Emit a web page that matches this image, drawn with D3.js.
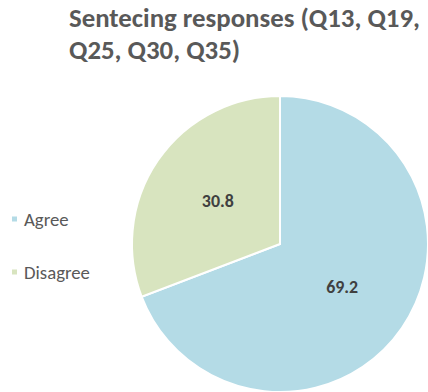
<!DOCTYPE html>
<html><head><meta charset="utf-8">
<script src="https://cdn.jsdelivr.net/npm/d3@7"></script>
<style>html,body{margin:0;padding:0;background:#fff;}</style>
</head><body>
<svg id="c" width="428" height="392"></svg>
<script>
const categories = ["Agree", "Disagree"];
const values = [69.2, 30.8];
const colors = ["#b4dbe6", "#d8e4bf"];
const titleLines = ["Sentecing responses (Q13, Q19,", "Q25, Q30, Q35)"];

const svg = d3.select("#c");
const font = "Carlito, Calibri, 'Open Sans', 'Noto Sans', sans-serif";

function fit(sel, base, target) {
  const w = sel.node().getComputedTextLength();
  return base * target / w;
}

// title
const t = svg.append("g");
titleLines.forEach((s, i) => {
  t.append("text").attr("x", 69).attr("y", 27 + i * 32)
    .attr("font-family", font).attr("font-weight", "bold").attr("font-size", 20)
    .attr("fill", "#595959").text(s);
});
t.selectAll("text").attr("font-size", fit(t.select("text"), 20, 351));

// pie
const cx = 280, cy = 244, r = 148;
const pie = d3.pie().sort(null).value(d => d)(values);
const arc = d3.arc().innerRadius(0).outerRadius(r);
const g = svg.append("g").attr("transform", `translate(${cx},${cy})`);
const color = d3.scaleOrdinal().domain(categories).range(colors);
g.selectAll("path").data(pie).join("path")
  .attr("d", arc).attr("fill", (d, i) => color(categories[i]))
  .attr("stroke", "#fff").attr("stroke-width", 2);
const lab = d3.arc().innerRadius(r * 0.51).outerRadius(r * 0.51);
const labels = g.selectAll("text.v").data(pie).join("text").attr("class", "v")
  .attr("transform", d => `translate(${lab.centroid(d)})`)
  .attr("text-anchor", "middle").attr("dy", "0.35em")
  .attr("font-family", font).attr("font-weight", "bold").attr("font-size", 13)
  .attr("fill", "#404040").text(d => d.value.toFixed(1));
labels.attr("font-size", fit(labels.filter((d, i) => i === 1), 13, 32));

// legend
const y = d3.scalePoint().domain(categories).range([219, 272]);
const lg = svg.append("g");
categories.forEach(c => {
  lg.append("rect").attr("x", 12).attr("y", y(c) - 2.5).attr("width", 5).attr("height", 5).attr("fill", color(c));
  lg.append("text").attr("class", "lt").attr("x", 24).attr("y", y(c)).attr("dy", "0.35em")
    .attr("font-family", font).attr("font-size", 14).attr("fill", "#595959").text(c);
});
const lt = lg.selectAll("text.lt");
lt.attr("font-size", fit(lt.filter((d, i, n) => n[i].textContent === "Disagree"), 14, 66));
</script>
</body></html>
